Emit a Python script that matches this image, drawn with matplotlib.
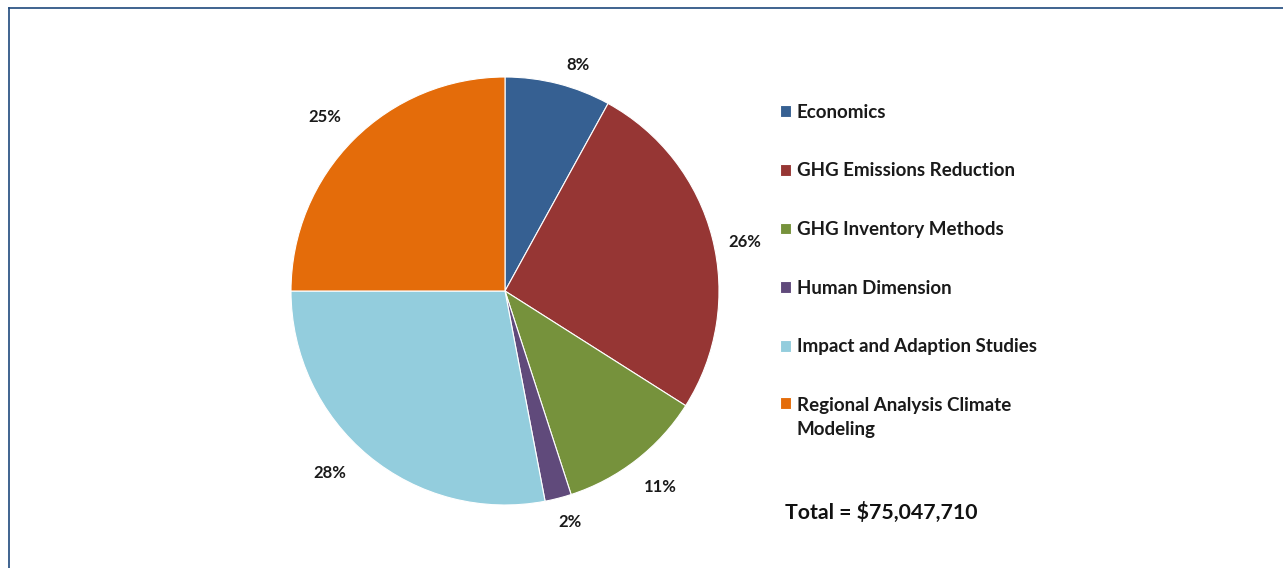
import numpy as np
import matplotlib.pyplot as plt
from matplotlib.lines import Line2D

plt.rcParams['font.family'] = ['Lato', 'DejaVu Sans']

categories = ['Economics', 'GHG Emissions Reduction', 'GHG Inventory Methods',
              'Human Dimension', 'Impact and Adaption Studies',
              'Regional Analysis Climate\nModeling']
shares = [8, 26, 11, 2, 28, 25]
colors = ['#366092', '#963634', '#76923C', '#604A7B', '#93CDDD', '#E46C0A']
total_text = 'Total = $75,047,710'

# where each percentage label sits relative to its slice midpoint
# (radius in pie radii, angular nudge in degrees) - mimics Excel "outside end"
label_radius = [1.11, 1.145, 1.17, 1.12, 1.18, 1.17]
label_nudge = [-3.4, -2.9, 0.5, 1.4, -4.3, 1.1]

fig = plt.figure(figsize=(12.83, 5.68), dpi=100)

# thin blue frame on the top and left edges
fig.add_artist(Line2D([9 / 1283, 1], [1 - 8 / 568, 1 - 8 / 568], color='#1F497D', lw=1.2,
                      transform=fig.transFigure))
fig.add_artist(Line2D([9 / 1283, 9 / 1283], [0, 1 - 8 / 568], color='#1F497D', lw=1.2,
                      transform=fig.transFigure))

ax = fig.add_axes([(505 - 214) / 1283, (277 - 214) / 568, 428 / 1283, 428 / 568])
wedges, texts, autotexts = ax.pie(
    shares, colors=colors, startangle=90, counterclock=False,
    autopct='%1.0f%%', pctdistance=1.0,
    wedgeprops=dict(edgecolor='white', linewidth=0.8),
    textprops=dict(fontsize=12, fontweight='bold', color='#1a1a1a'))
for w, t, r, d in zip(wedges, autotexts, label_radius, label_nudge):
    ang = np.deg2rad((w.theta1 + w.theta2) / 2 + d)
    t.set_position((r * np.cos(ang), r * np.sin(ang)))
ax.set_xlim(-1, 1)
ax.set_ylim(-1, 1)

leg = fig.legend(wedges, categories, loc='upper left',
                 bbox_to_anchor=(763 / 1283, 1 - 87 / 568), frameon=False,
                 handlelength=0.6, handleheight=0.6, handletextpad=0.3,
                 labelspacing=2.22,
                 prop=dict(family='Lato', weight='bold', size=13.5))
for t in leg.get_texts():
    t.set_color('#1a1a1a')
    t.set_linespacing(1.5)
# keep the colour square next to the first line of the two-line entry
leg._legend_handle_box.get_children()[0].get_children()[-1].align = 'top'

fig.text(785 / 1283, 1 - 512 / 568, total_text, fontsize=15.3, fontweight='bold',
         color='#111111', va='center', ha='left')

fig.savefig('out.png', dpi=100)
